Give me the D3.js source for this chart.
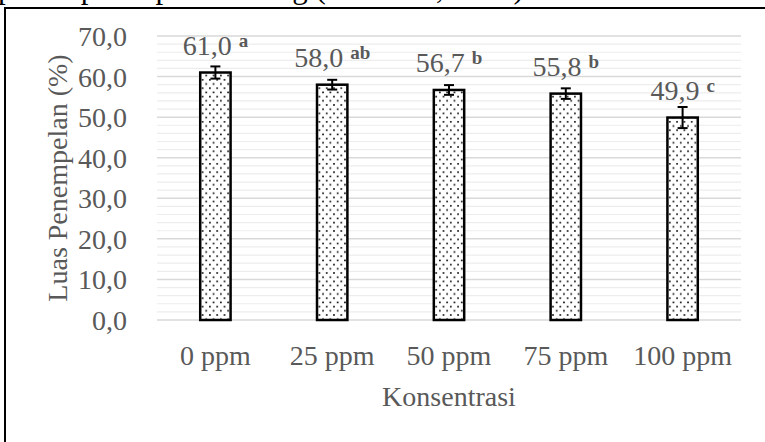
<!DOCTYPE html>
<html>
<head>
<meta charset="utf-8">
<script src="https://cdn.jsdelivr.net/npm/d3@7"></script>
<style>
  body { margin: 0; background: #fff; }
  svg { display: block; font-family: "Liberation Serif", "Times New Roman", serif; }
</style>
</head>
<body>
<div id="chart"></div>
<script>
// data
const categories = ["0 ppm", "25 ppm", "50 ppm", "75 ppm", "100 ppm"]
const values = [61.0, 58.0, 56.7, 55.8, 49.9]
const errors = [1.5, 1.2, 1.2, 1.3, 2.6]
const letters = ["a", "ab", "b", "b", "c"]
const yTicks = [0, 10, 20, 30, 40, 50, 60, 70]

const W = 765, H = 442
const margin = { top: 36, right: 24, bottom: 122, left: 157 }
const width = W - margin.left - margin.right
const height = H - margin.top - margin.bottom
const serif = "'Liberation Serif', 'Times New Roman', serif"
const fs = 28

const svg = d3.select("#chart").append("svg")
    .attr("width", W)
    .attr("height", H)

// dotted fill like the original
const pat = svg.append("defs").append("pattern")
    .attr("id", "dots")
    .attr("patternUnits", "userSpaceOnUse")
    .attr("width", 7.3)
    .attr("height", 8.4)
pat.append("rect").attr("width", 7.3).attr("height", 8.4).attr("fill", "#fff")
pat.append("rect").attr("x", 1).attr("y", 1).attr("width", 1.6).attr("height", 1.6).attr("fill", "#000")
pat.append("rect").attr("x", 4.65).attr("y", 5.2).attr("width", 1.6).attr("height", 1.6).attr("fill", "#000")

// cut-off line of text from the page above
svg.append("text")
    .attr("x", -2)
    .attr("y", -2)
    .attr("font-size", 31)
    .attr("fill", "#000")
    .text("penempelan pada sedang (Indrasari, 1989).")

// chart border (left and top visible)
svg.append("path")
    .attr("d", "M5," + H + "V8H" + W)
    .attr("fill", "none")
    .attr("stroke", "#000")
    .attr("stroke-width", 2)

const g = svg.append("g")
    .attr("transform", "translate(" + margin.left + "," + margin.top + ")")

const x = d3.scaleBand()
    .domain(categories)
    .range([0, width])
    .paddingInner(0.74)
    .paddingOuter(0.37)

const y = d3.scaleLinear()
    .domain([0, 70])
    .range([height, 0])

// minor gridlines
g.append("g")
    .selectAll("line")
    .data(d3.range(0, 70, 2).filter(function(d) { return d % 10 != 0 }))
    .join("line")
    .attr("x1", 0).attr("x2", width)
    .attr("y1", function(d) { return y(d) }).attr("y2", function(d) { return y(d) })
    .attr("stroke", "#ededed")
    .attr("stroke-width", 1.2)

// major gridlines
g.append("g")
    .selectAll("line")
    .data(yTicks)
    .join("line")
    .attr("x1", 0).attr("x2", width)
    .attr("y1", function(d) { return y(d) }).attr("y2", function(d) { return y(d) })
    .attr("stroke", "#d9d9d9")
    .attr("stroke-width", 1.5)

// y axis labels
const yAxis = g.append("g")
    .attr("transform", "translate(-27,0)")
    .call(d3.axisLeft(y).tickValues(yTicks).tickSize(0)
        .tickFormat(function(d) { return d3.format(".1f")(d).replace(".", ",") }))
yAxis.attr("font-family", serif).attr("font-size", fs)
yAxis.select(".domain").remove()
yAxis.selectAll("text")
    .attr("fill", "#595959")
    .attr("dy", "0.34em")

// x axis labels
const xAxis = g.append("g")
    .attr("transform", "translate(0," + height + ")")
    .call(d3.axisBottom(x).tickSize(0))
xAxis.attr("font-family", serif).attr("font-size", fs)
xAxis.select(".domain").remove()
xAxis.selectAll("text")
    .attr("fill", "#595959")
    .attr("y", 45)
    .attr("dy", 0)

// bars
g.selectAll(".bar")
    .data(values)
    .join("rect")
    .attr("class", "bar")
    .attr("x", function(d, i) { return x(categories[i]) })
    .attr("y", function(d) { return y(d) })
    .attr("width", x.bandwidth())
    .attr("height", function(d) { return height - y(d) })
    .attr("fill", "url(#dots)")
    .attr("stroke", "#000")
    .attr("stroke-width", 2.5)

// error bars
const eb = g.selectAll(".err")
    .data(values)
    .join("g")
    .attr("class", "err")
    .attr("transform", function(d, i) { return "translate(" + (x(categories[i]) + x.bandwidth() / 2) + ",0)" })
    .attr("stroke", "#000")
    .attr("stroke-width", 2)
eb.append("line")
    .attr("y1", function(d, i) { return y(d + errors[i]) })
    .attr("y2", function(d, i) { return y(d - errors[i]) })
eb.append("line")
    .attr("x1", -5).attr("x2", 5)
    .attr("y1", function(d, i) { return y(d + errors[i]) })
    .attr("y2", function(d, i) { return y(d + errors[i]) })
eb.append("line")
    .attr("x1", -5).attr("x2", 5)
    .attr("y1", function(d, i) { return y(d - errors[i]) })
    .attr("y2", function(d, i) { return y(d - errors[i]) })

// value labels with letter notation
const lab = g.selectAll(".lab")
    .data(values)
    .join("text")
    .attr("class", "lab")
    .attr("x", function(d, i) { return x(categories[i]) + x.bandwidth() / 2 })
    .attr("y", function(d) { return y(d) - 18 })
    .attr("text-anchor", "middle")
    .attr("font-family", serif)
    .attr("font-size", fs)
    .attr("fill", "#595959")
lab.append("tspan")
    .text(function(d) { return d3.format(".1f")(d).replace(".", ",") + " " })
lab.append("tspan")
    .attr("font-size", 19)
    .attr("font-weight", "bold")
    .attr("dy", -8)
    .text(function(d, i) { return letters[i] })

// axis titles
svg.append("text")
    .attr("transform", "translate(" + 67 + "," + (margin.top + height / 2) + ") rotate(-90)")
    .attr("text-anchor", "middle")
    .attr("font-size", fs)
    .attr("fill", "#595959")
    .text("Luas Penempelan (%)")

svg.append("text")
    .attr("x", margin.left + width / 2)
    .attr("y", 406)
    .attr("text-anchor", "middle")
    .attr("font-size", fs)
    .attr("fill", "#595959")
    .text("Konsentrasi")
</script>
</body>
</html>
